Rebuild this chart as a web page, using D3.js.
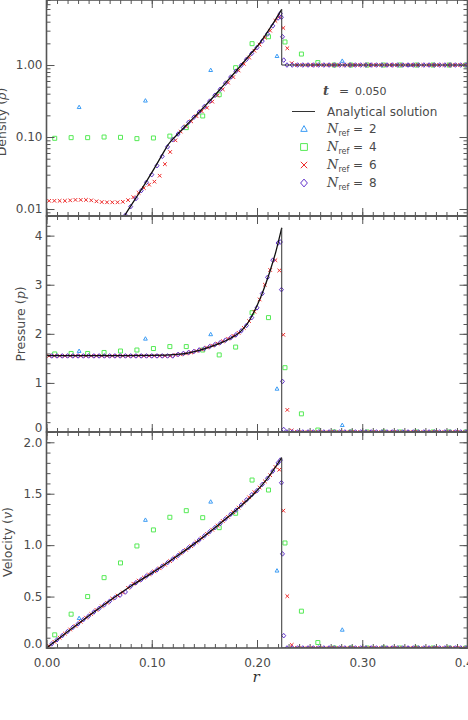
<!DOCTYPE html>
<html>
<head>
<meta charset="utf-8">
<script src="https://cdn.jsdelivr.net/npm/d3@7"></script>
<style>
  body { margin: 0; background: #fff; }
  svg { display: block; font-family: "DejaVu Sans", sans-serif; }
</style>
</head>
<body>
<svg id="chart" width="468" height="720"></svg>
<script>
// ---- data ----
const xMajor = [0, 0.1, 0.2, 0.3, 0.4];
const rhoMajor = [0.01, 0.1, 1];
const pMajor = [0, 1, 2, 3, 4];
const vMajor = [0, 0.5, 1, 1.5, 2];

const timeLabel = '0.050';
const nrefLabels = ['2', '4', '6', '8'];

// analytical solution
const rRhoAn = [0.070, 0.074, 0.080, 0.089, 0.100, 0.110, 0.116, 0.125, 0.134, 0.145, 0.155, 0.168, 0.181, 0.192, 0.203, 0.208, 0.213, 0.2235, 0.2235, 0.400];
const rhoAn  = [0.0064, 0.008, 0.0110, 0.0175, 0.032, 0.057, 0.080, 0.111, 0.152, 0.221, 0.316, 0.518, 0.853, 1.32, 2.05, 2.60, 3.35, 5.94, 1.00, 1.00];
const rPAn = [0.000, 0.050, 0.100, 0.127, 0.146, 0.165, 0.175, 0.184, 0.190, 0.196, 0.203, 0.208, 0.213, 0.218, 0.2235, 0.2235, 0.400];
const pAn  = [1.557, 1.557, 1.560, 1.586, 1.67, 1.81, 1.91, 2.04, 2.18, 2.40, 2.72, 3.00, 3.32, 3.68, 4.16, 0.00, 0.00];
const rVAn = [0.000, 0.020, 0.040, 0.060, 0.080, 0.100, 0.120, 0.140, 0.160, 0.180, 0.200, 0.210, 0.2235, 0.2235, 0.400];
const vAn  = [0.000, 0.158, 0.312, 0.460, 0.600, 0.728, 0.865, 1.010, 1.170, 1.340, 1.530, 1.650, 1.850, 0.000, 0.000];

// N_ref = 2
const rN2   = [0.031, 0.094, 0.156, 0.219, 0.281, 0.344];
const rhoN2 = [0.26, 0.32, 0.85, 1.33, 1.14, 1.00];
const pN2   = [1.65, 1.90, 1.99, 0.88, 0.14, 0.00];
const vN2   = [0.29, 1.245, 1.422, 0.752, 0.177, 0.00];

// N_ref = 4
const rN4   = [0.0078, 0.0234, 0.0391, 0.0547, 0.0703, 0.0859, 0.1016, 0.1172, 0.1328, 0.1484, 0.1641, 0.1797, 0.1953,
               0.2109, 0.2266, 0.2422, 0.2578, 0.2734, 0.2891, 0.3047, 0.3203, 0.3359, 0.3516, 0.3672, 0.3828, 0.3984];
const rhoN4 = [0.096, 0.098, 0.098, 0.100, 0.099, 0.095, 0.097, 0.103, 0.135, 0.196, 0.387, 0.918, 1.98,
               2.47, 2.09, 1.42, 1.08, 1.00, 1.00, 1.00, 1.00, 1.00, 1.00, 1.00, 1.00, 1.00];
const pN4   = [1.59, 1.60, 1.60, 1.62, 1.65, 1.67, 1.70, 1.74, 1.74, 1.67, 1.57, 1.73, 2.43,
               2.33, 1.31, 0.37, 0.04, 0, 0, 0, 0, 0, 0, 0, 0, 0];
const vN4   = [0.128, 0.329, 0.500, 0.684, 0.827, 0.992, 1.148, 1.271, 1.335, 1.267, 1.170, 1.310, 1.633,
               1.536, 1.021, 0.358, 0.053, 0, 0, 0, 0, 0, 0, 0, 0, 0];

// N_ref = 6
const rN6 = [0.0025, 0.0075, 0.0125, 0.0175, 0.0225, 0.0275, 0.0325, 0.0375, 0.0425, 0.0475,
             0.0525, 0.0575, 0.0625, 0.0675, 0.0725, 0.0775, 0.0825, 0.0875, 0.0925, 0.0975,
             0.1025, 0.1075, 0.1125, 0.1175, 0.1225, 0.1275, 0.1325, 0.1375, 0.1425, 0.1475,
             0.1525, 0.1575, 0.1625, 0.1675, 0.1725, 0.1775, 0.1825, 0.1875, 0.1925, 0.1975,
             0.2025, 0.2075, 0.2125, 0.2175, 0.2212, 0.2250, 0.2288, 0.2330,
             0.238, 0.243, 0.248, 0.253, 0.258, 0.263, 0.268, 0.273, 0.278, 0.283,
             0.288, 0.293, 0.298, 0.303, 0.308, 0.313, 0.318, 0.323, 0.328, 0.333,
             0.338, 0.343, 0.348, 0.353, 0.358, 0.363, 0.368, 0.373, 0.378, 0.383,
             0.388, 0.393, 0.398];
const rhoN6 = [0.0130, 0.0130, 0.0130, 0.0130, 0.0132, 0.0134, 0.0134, 0.0134, 0.0132, 0.0128,
               0.0125, 0.0124, 0.0124, 0.0124, 0.0126, 0.0133, 0.0146, 0.0168, 0.0196, 0.0218,
               0.0240, 0.0290, 0.0420, 0.0620, 0.090, 0.119, 0.141, 0.165, 0.195, 0.228,
               0.255, 0.31, 0.38, 0.46, 0.57, 0.68, 0.84, 1.04, 1.27, 1.58,
               1.92, 2.40, 3.00, 4.10, 4.70, 3.27, 1.71, 1.06,
               1.00, 1.00, 1.00, 1.00, 1.00, 1.00, 1.00, 1.00, 1.00, 1.00,
               1.00, 1.00, 1.00, 1.00, 1.00, 1.00, 1.00, 1.00, 1.00, 1.00,
               1.00, 1.00, 1.00, 1.00, 1.00, 1.00, 1.00, 1.00, 1.00, 1.00,
               1.00, 1.00, 1.00];
const pN6 = [1.55, 1.55, 1.55, 1.55, 1.55, 1.55, 1.55, 1.55, 1.55, 1.55,
             1.55, 1.55, 1.55, 1.55, 1.55, 1.55, 1.55, 1.55, 1.55, 1.55,
             1.55, 1.55, 1.55, 1.55, 1.57, 1.58, 1.60, 1.62, 1.65, 1.68,
             1.72, 1.76, 1.80, 1.85, 1.90, 1.96, 2.02, 2.12, 2.26, 2.45,
             2.70, 3.00, 3.30, 3.50, 3.29, 1.98, 0.45, 0.03,
             0, 0, 0, 0, 0, 0, 0, 0, 0, 0,
             0, 0, 0, 0, 0, 0, 0, 0, 0, 0,
             0, 0, 0, 0, 0, 0, 0, 0, 0, 0,
             0, 0, 0];
const vN6 = [0.020, 0.060, 0.100, 0.140, 0.180, 0.215, 0.255, 0.295, 0.330, 0.370,
             0.405, 0.440, 0.480, 0.510, 0.540, 0.585, 0.625, 0.655, 0.685, 0.715,
             0.745, 0.775, 0.810, 0.845, 0.880, 0.920, 0.955, 0.990, 1.030, 1.070,
             1.110, 1.150, 1.190, 1.235, 1.275, 1.320, 1.365, 1.415, 1.465, 1.515,
             1.560, 1.620, 1.680, 1.760, 1.733, 1.335, 0.504, 0.030,
             0, 0, 0, 0, 0, 0, 0, 0, 0, 0,
             0, 0, 0, 0, 0, 0, 0, 0, 0, 0,
             0, 0, 0, 0, 0, 0, 0, 0, 0, 0,
             0, 0, 0];

// N_ref = 8 (null: below the density axis, not visible)
const rN8 = [0.005, 0.010, 0.015, 0.020, 0.025, 0.030, 0.035, 0.040, 0.045, 0.050,
             0.055, 0.060, 0.065, 0.070, 0.075, 0.080, 0.085, 0.090, 0.095, 0.100,
             0.105, 0.110, 0.115, 0.120, 0.125, 0.130, 0.135, 0.140, 0.145, 0.150,
             0.155, 0.160, 0.165, 0.170, 0.175, 0.180, 0.185, 0.190, 0.195, 0.200,
             0.205, 0.210, 0.215, 0.220, 0.2222, 0.2232, 0.2242, 0.2254,
             0.2285, 0.2335, 0.2385, 0.2435, 0.2485, 0.2535, 0.2585, 0.2635, 0.2685, 0.2735,
             0.2785, 0.2835, 0.2885, 0.2935, 0.2985, 0.3035, 0.3085, 0.3135, 0.3185, 0.3235,
             0.3285, 0.3335, 0.3385, 0.3435, 0.3485, 0.3535, 0.3585, 0.3635, 0.3685, 0.3735,
             0.3785, 0.3835, 0.3885, 0.3935, 0.3985];
const rhoN8 = [null, null, null, null, null, null, null, null, null, null,
               null, null, null, null, 0.0082, 0.0108, 0.0140, 0.0180, 0.0235, 0.030,
               0.040, 0.054, 0.073, 0.092, 0.110, 0.135, 0.160, 0.188, 0.222, 0.265,
               0.315, 0.38, 0.46, 0.56, 0.68, 0.82, 0.99, 1.20, 1.45, 1.75,
               2.15, 2.70, 3.50, 4.50, 5.20, 4.60, 2.47, 1.17,
               1.00, 1.00, 1.00, 1.00, 1.00, 1.00, 1.00, 1.00, 1.00, 1.00,
               1.00, 1.00, 1.00, 1.00, 1.00, 1.00, 1.00, 1.00, 1.00, 1.00,
               1.00, 1.00, 1.00, 1.00, 1.00, 1.00, 1.00, 1.00, 1.00, 1.00,
               1.00, 1.00, 1.00, 1.00, 1.00];
const pN8 = [1.55, 1.55, 1.55, 1.55, 1.55, 1.55, 1.55, 1.55, 1.55, 1.55,
             1.55, 1.55, 1.55, 1.55, 1.55, 1.55, 1.55, 1.55, 1.55, 1.55,
             1.55, 1.55, 1.55, 1.55, 1.58, 1.60, 1.62, 1.64, 1.67, 1.70,
             1.74, 1.78, 1.82, 1.87, 1.92, 1.98, 2.06, 2.17, 2.33, 2.53,
             2.82, 3.15, 3.50, 3.85, 3.87, 2.90, 1.03, 0.05,
             0, 0, 0, 0, 0, 0, 0, 0, 0, 0,
             0, 0, 0, 0, 0, 0, 0, 0, 0, 0,
             0, 0, 0, 0, 0, 0, 0, 0, 0, 0,
             0, 0, 0, 0, 0];
const vN8 = [0.040, 0.080, 0.120, 0.160, 0.200, 0.235, 0.275, 0.310, 0.350, 0.385,
             0.420, 0.455, 0.490, 0.515, 0.545, 0.600, 0.635, 0.665, 0.700, 0.730,
             0.760, 0.795, 0.830, 0.865, 0.900, 0.940, 0.975, 1.010, 1.050, 1.090,
             1.130, 1.170, 1.210, 1.255, 1.300, 1.340, 1.390, 1.440, 1.490, 1.530,
             1.590, 1.650, 1.720, 1.800, 1.827, 1.607, 0.915, 0.120,
             0, 0, 0, 0, 0, 0, 0, 0, 0, 0,
             0, 0, 0, 0, 0, 0, 0, 0, 0, 0,
             0, 0, 0, 0, 0, 0, 0, 0, 0, 0,
             0, 0, 0, 0, 0];

// ---- drawing ----
const svg = d3.select('#chart');
const axisColor = '#555';
const textColor = '#4a4a4a';

const x = d3.scaleLinear().domain([0, 0.4]).range([46.5, 467.5]);
const x0 = x.range()[0], x1 = x.range()[1];

const series = [
    { label: nrefLabels[0], shape: 'triangle', color: '#3d9df5', r: rN2, vals: [rhoN2, pN2, vN2] },
    { label: nrefLabels[1], shape: 'square', color: '#55ea55', r: rN4, vals: [rhoN4, pN4, vN4] },
    { label: nrefLabels[2], shape: 'x', color: '#ee2a2a', r: rN6, vals: [rhoN6, pN6, vN6] },
    { label: nrefLabels[3], shape: 'diamond', color: '#6233cc', r: rN8, vals: [rhoN8, pN8, vN8] }
];

function markerPath(shape, s) {
    if (shape === 'triangle') return `M0,${-s}L${s * 0.95},${s * 0.7}L${-s * 0.95},${s * 0.7}Z`;
    if (shape === 'square') return `M${-s},${-s}H${s}V${s}H${-s}Z`;
    if (shape === 'x') return `M${-s},${-s}L${s},${s}M${-s},${s}L${s},${-s}`;
    return `M0,${-s * 1.15}L${s},0L0,${s * 1.15}L${-s},0Z`;
}

const panels = [
    { scale: d3.scaleLog().domain([0.008, 8]), top: 0, bottom: 216, major: rhoMajor, fmt: d3.format('.2f'),
      minor: s => s.ticks().filter(t => !rhoMajor.some(m => Math.abs(m - t) < 1e-9)),
      anR: rRhoAn, anV: rhoAn },
    { scale: d3.scaleLinear().domain([0, 4.4]), top: 216, bottom: 432, major: pMajor, fmt: d3.format('d'),
      minor: s => s.ticks(22), anR: rPAn, anV: pAn },
    { scale: d3.scaleLinear().domain([0, 2.1]), top: 432, bottom: 648, major: vMajor, fmt: d3.format('.1f'),
      minor: s => s.ticks(21), anR: rVAn, anV: vAn }
];

panels.forEach((p, i) => {
    const y = p.scale.range([p.bottom, p.top]);
    const g = svg.append('g');

    const clipId = 'clip' + i;
    svg.append('clipPath').attr('id', clipId)
        .append('rect').attr('x', x0).attr('y', p.top).attr('width', x1 - x0).attr('height', p.bottom - p.top);
    const plot = g.append('g').attr('clip-path', `url(#${clipId})`);

    // simulation points
    series.forEach(s => {
        const pts = s.r.map((r, k) => ({ r: r, v: s.vals[i][k] })).filter(d => d.v !== null);
        plot.append('g').selectAll('path')
            .data(pts)
            .enter().append('path')
            .attr('transform', d => `translate(${x(d.r)},${y(d.v)})`)
            .attr('d', markerPath(s.shape, s.shape === 'x' ? 1.8 : 2))
            .attr('fill', 'none')
            .attr('stroke', s.color)
            .attr('stroke-width', 1);
    });

    // analytical solution: smooth part up to the shock, then the jump
    const an = p.anR.map((r, k) => ({ r: r, v: p.anV[k] }));
    const jump = an.findIndex((d, k) => k > 0 && d.r === an[k - 1].r);
    const smooth = d3.line().x(d => x(d.r)).y(d => y(d.v)).curve(d3.curveMonotoneX);
    const straight = d3.line().x(d => x(d.r)).y(d => y(d.v));
    plot.append('path').attr('d', smooth(an.slice(0, jump)))
        .attr('fill', 'none').attr('stroke', '#111').attr('stroke-width', 1.3);
    plot.append('path').attr('d', straight(an.slice(jump - 1)))
        .attr('fill', 'none').attr('stroke', '#333').attr('stroke-width', 1);

    // axes
    const minor = p.minor(y);
    const styleAxis = sel => {
        sel.select('.domain').remove();
        sel.selectAll('line').attr('stroke', axisColor).attr('stroke-width', 1);
        sel.selectAll('text').attr('fill', textColor).attr('font-size', 12).attr('font-family', '"DejaVu Sans", sans-serif');
    };
    const left = g.append('g').attr('transform', `translate(${x0},0)`)
        .call(d3.axisLeft(y).tickValues(p.major).tickSize(-8).tickPadding(4).tickFormat(p.fmt)).call(styleAxis);
    // the lowest label sits a little above its tick, as in the original
    if (i > 0) left.selectAll('.tick').filter(d => d === 0).select('text').attr('y', -4);
    g.append('g').attr('transform', `translate(${x0},0)`)
        .call(d3.axisLeft(y).tickValues(minor).tickSize(-4).tickFormat('')).call(styleAxis);
    g.append('g').attr('transform', `translate(${x1},0)`)
        .call(d3.axisRight(y).tickValues(p.major).tickSize(-8).tickFormat('')).call(styleAxis);
    g.append('g').attr('transform', `translate(${x1},0)`)
        .call(d3.axisRight(y).tickValues(minor).tickSize(-4).tickFormat('')).call(styleAxis);

    const xMinor = x.ticks(40);
    g.append('g').attr('transform', `translate(0,${p.bottom})`)
        .call(d3.axisBottom(x).tickValues(xMajor).tickSize(-8).tickPadding(10)
            .tickFormat(i === panels.length - 1 ? d3.format('.2f') : ''))
        .call(styleAxis);
    g.append('g').attr('transform', `translate(0,${p.bottom})`)
        .call(d3.axisBottom(x).tickValues(xMinor).tickSize(-4).tickFormat('')).call(styleAxis);
    g.append('g').attr('transform', `translate(0,${p.top})`)
        .call(d3.axisTop(x).tickValues(xMajor).tickSize(-8).tickFormat('')).call(styleAxis);
    g.append('g').attr('transform', `translate(0,${p.top})`)
        .call(d3.axisTop(x).tickValues(xMinor).tickSize(-4).tickFormat('')).call(styleAxis);

    // frame
    g.append('rect').attr('x', x0).attr('y', p.top).attr('width', x1 - x0).attr('height', p.bottom - p.top)
        .attr('fill', 'none').attr('stroke', axisColor).attr('stroke-width', 1.6);
});

// axis titles
const titles = [
    { main: 'Density (', sym: 'ρ', x: 6, y: 122 },
    { main: 'Pressure (', sym: 'p', x: 25, y: 324 },
    { main: 'Velocity (', sym: 'v', x: 12, y: 542 }
];
titles.forEach(t => {
    const tx = svg.append('text')
        .attr('transform', `translate(${t.x},${t.y}) rotate(-90)`)
        .attr('text-anchor', 'middle')
        .attr('fill', textColor)
        .attr('font-size', 12.5);
    tx.append('tspan').text(t.main);
    tx.append('tspan').attr('font-style', 'italic').attr('font-family', '"DejaVu Serif", serif').text(t.sym);
    tx.append('tspan').text(')');
});

svg.append('text')
    .attr('x', 256).attr('y', 682)
    .attr('text-anchor', 'middle')
    .attr('font-family', '"DejaVu Serif", serif')
    .attr('font-style', 'italic')
    .attr('font-size', 15)
    .attr('fill', '#333')
    .text('r');

// legend
const legend = svg.append('g').attr('fill', textColor).attr('font-size', 12);
const tLine = legend.append('text').attr('x', 323).attr('y', 95);
tLine.append('tspan').attr('font-family', '"DejaVu Serif", serif').attr('font-style', 'italic')
    .attr('font-weight', 'bold').attr('font-size', 13).text('t');
tLine.append('tspan').attr('x', 339).text('=');
tLine.append('tspan').attr('x', 355).attr('font-size', 11).text(timeLabel);

legend.append('line').attr('x1', 292).attr('x2', 315).attr('y1', 111.5).attr('y2', 111.5)
    .attr('stroke', '#333').attr('stroke-width', 1);
legend.append('text').attr('x', 327).attr('y', 116).text('Analytical solution');

series.forEach((s, k) => {
    const cy = 129 + k * 18;
    legend.append('path')
        .attr('transform', `translate(304,${cy})`)
        .attr('d', markerPath(s.shape, s.shape === 'x' ? 3.2 : 3.4))
        .attr('fill', 'none').attr('stroke', s.color).attr('stroke-width', 1);
    const tx = legend.append('text').attr('x', 327).attr('y', cy + 4);
    tx.append('tspan').attr('font-family', '"DejaVu Serif", serif').attr('font-style', 'italic')
        .attr('font-size', 13).text('N');
    tx.append('tspan').attr('font-size', 8).attr('dy', 3).text('ref');
    tx.append('tspan').attr('x', 353).attr('dy', -3).text('=');
    tx.append('tspan').attr('x', 369).text(s.label);
});
</script>
</body>
</html>
